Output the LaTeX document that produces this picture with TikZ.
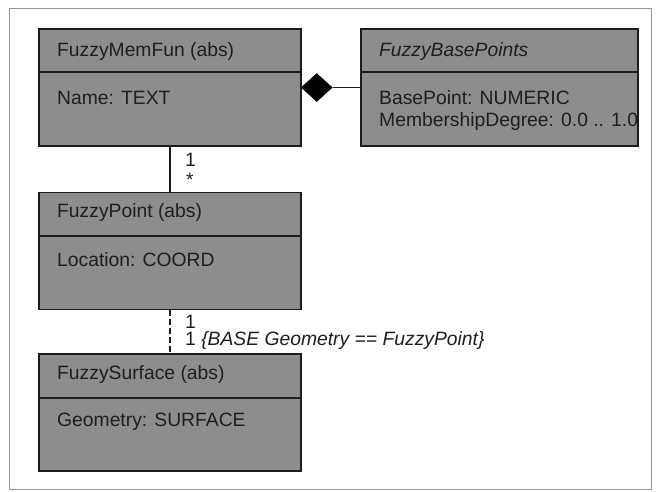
\documentclass[tikz,border=0pt]{standalone}
\usepackage{fontspec}
\setmainfont{Liberation Sans}
\usetikzlibrary{shapes.geometric}
\definecolor{boxfill}{RGB}{141,141,141}
\definecolor{boxline}{RGB}{28,28,28}
\definecolor{inkc}{RGB}{30,30,30}
\definecolor{framec}{RGB}{150,150,150}
\tikzset{
  umlbox/.style={draw=boxline, line width=1.8pt, fill=boxfill, minimum width=262pt, minimum height=117pt, inner sep=0pt, outer sep=0pt},
  lbl/.style={anchor=west, inner sep=0pt, text=inkc, font=\fontsize{19.3}{24}\selectfont},
  divline/.style={draw=boxline, line width=1.8pt},
  conn/.style={draw=boxline, line width=1.3pt},
}
\begin{document}
\begin{tikzpicture}[x=1pt, y=-1pt]
\useasboundingbox (0,0) rectangle (659,491);
\draw[framec, line width=1pt] (9,8) rectangle (651,489);

% boxes
\node[umlbox] (memfun) at (170,87.5) {};
\node[umlbox, minimum width=277pt] (base) at (499.5,87.5) {};
\node[umlbox] (point) at (170,251) {};
\node[umlbox] (surf) at (170,412.5) {};

% dividers
\coordinate (d1l) at (39,72); \coordinate (d1r) at (301,72);
\coordinate (d2l) at (361,72); \coordinate (d2r) at (638,72);
\coordinate (d3l) at (39,236); \coordinate (d3r) at (301,236);
\coordinate (d4l) at (39,398); \coordinate (d4r) at (301,398);
\draw[divline] (d1l) -- (d1r);
\draw[divline] (d2l) -- (d2r);
\draw[divline] (d3l) -- (d3r);
\draw[divline] (d4l) -- (d4r);

% texts
\node[lbl] (t1) at (57,52) {FuzzyMemFun (abs)};
\node[lbl] (a1) at (57,98) {Name: TEXT};
\node[lbl] (t2) at (379,52) {\itshape FuzzyBasePoints};
\node[lbl] (a2) at (379,98) {BasePoint: NUMERIC};
\node[lbl] (a2b) at (379,122) {MembershipDegree: 0.0 .. 1.0};
\node[lbl] (t3) at (57,213) {FuzzyPoint (abs)};
\node[lbl] (a3) at (57,260) {Location: COORD};
\node[lbl] (t4) at (57,375) {FuzzySurface (abs)};
\node[lbl] (a4) at (57,422) {Geometry: SURFACE};

% composition
\node[diamond, fill=black, draw=black, line width=0.5pt, inner sep=0pt, minimum width=31pt, minimum height=28pt, anchor=west] (dia) at (memfun.east) {};
\draw[conn] (dia.east) -- (base.west);

% associations
\draw[conn] (memfun.south) -- (point.north);
\node[lbl] (m1) at (185,160) {1};
\node[lbl] (m2) at (186,180) {*};
\draw[conn, dash pattern=on 6pt off 3pt] (point.south) -- (surf.north);
\node[lbl] (m3) at (185,322) {1};
\node[lbl] (m4) at (185,341) {1 \itshape\{BASE Geometry == FuzzyPoint\}};
\end{tikzpicture}
\end{document}
